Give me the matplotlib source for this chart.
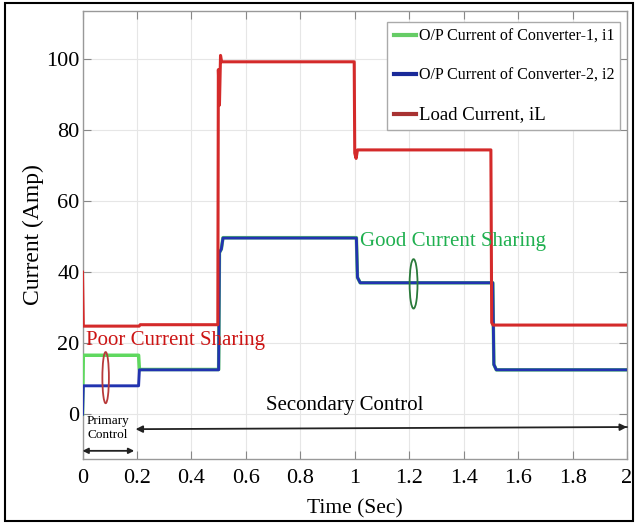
import matplotlib
matplotlib.use("Agg")
import matplotlib.pyplot as plt
from matplotlib.lines import Line2D
from matplotlib.patches import Ellipse, Rectangle

plt.rcParams['font.family'] = ['Liberation Serif', 'DejaVu Serif']

# Load current iL (A) vs time (s)
t_load = [0.0, 0.003, 0.208, 0.212, 0.497, 0.499, 0.503, 0.507, 0.511,
          0.998, 1.000, 1.005, 1.010, 1.500, 1.503, 1.508, 2.0]
i_load = [40.0, 24.8, 24.8, 25.2, 25.2, 97.0, 87.0, 101.0, 99.2,
          99.2, 73.5, 72.0, 74.4, 74.4, 25.8, 25.1, 25.1]

# Converter-1 output current i1
t_conv1 = [0.0, 0.003, 0.206, 0.209, 0.500, 0.503, 0.510, 0.516,
           1.006, 1.010, 1.020, 1.507, 1.511, 1.520, 2.0]
i_conv1 = [0.0, 16.6, 16.6, 12.6, 12.6, 45.5, 46.5, 49.7,
           49.7, 38.5, 37.0, 37.0, 14.0, 12.5, 12.5]

# Converter-2 output current i2
t_conv2 = [0.0, 0.003, 0.206, 0.209, 0.500, 0.503, 0.510, 0.516,
           1.006, 1.010, 1.020, 1.507, 1.511, 1.520, 2.0]
i_conv2 = [0.0, 8.0, 8.0, 12.5, 12.5, 45.5, 46.5, 49.6,
           49.6, 38.5, 37.0, 37.0, 14.0, 12.5, 12.5]

x_ticks = [0, 0.2, 0.4, 0.6, 0.8, 1.0, 1.2, 1.4, 1.6, 1.8, 2.0]
x_tick_labels = ['0', '0.2', '0.4', '0.6', '0.8', '1', '1.2', '1.4', '1.6', '1.8', '2']
y_ticks = [0, 20, 40, 60, 80, 100]

legend_labels = ['O/P Current of Converter-1, i1',
                 'O/P Current of Converter-2, i2',
                 'Load Current, iL']

fig = plt.figure(figsize=(6.35, 5.25), dpi=100)
ax = fig.add_axes([82.5 / 635, 66 / 525, 544.5 / 635, 448 / 525])

ax.plot(t_conv1, i_conv1, color='#5fd85f', lw=2.5, zorder=3)
ax.plot(t_conv2, i_conv2, color='#2233b0', lw=2.1, zorder=4)
ax.plot(t_load, i_load, color='#d42a2a', lw=2.2, zorder=5)

ax.set_xlim(0, 2)
ax.set_ylim(-12.6, 113.5)
ax.set_xticks(x_ticks)
ax.set_xticklabels(x_tick_labels)
ax.set_yticks(y_ticks)
ax.grid(True, color='#e6e6e6', lw=0.8, zorder=0)
ax.tick_params(direction='in', top=True, right=True, length=6, width=0.8,
               color='#888888', labelsize=16)
ax.tick_params(axis='x', pad=7)
ax.tick_params(axis='y', pad=2)
for sp in ax.spines.values():
    sp.set_color('#999999')
    sp.set_linewidth(1.0)

ax.set_xlabel('Time (Sec)', fontsize=15.5, labelpad=8)
ax.set_ylabel('Current (Amp)', fontsize=17, labelpad=2)

# Annotations
ax.text(0.013, 20.8, 'Poor Current Sharing', color='#cc1515', fontsize=15,
        ha='left', va='center', zorder=6)
ax.text(1.019, 48.5, 'Good Current Sharing', color='#20b050', fontsize=15,
        ha='left', va='center', zorder=6)
ax.text(0.962, 2.4, 'Secondary Control', color='black', fontsize=15,
        ha='center', va='center')
ax.text(0.094, -3.9, 'Primary\nControl', color='black', fontsize=9.5,
        ha='center', va='center', linespacing=1.15)

ax.add_patch(Ellipse((0.085, 10.3), 0.024, 14.4, fill=False,
                     ec='#b83a3a', lw=1.3, zorder=7))
ax.add_patch(Ellipse((1.216, 36.7), 0.029, 13.9, fill=False,
                     ec='#2a7a3a', lw=1.3, zorder=7))

ax.annotate('', xy=(0.195, -4.2), xytext=(2.0, -3.6),
            arrowprops=dict(arrowstyle='-|>', color='#222222', lw=1.3,
                            mutation_scale=10, shrinkA=0, shrinkB=0),
            annotation_clip=False)
ax.annotate('', xy=(2.0, -3.6), xytext=(1.97, -3.65),
            arrowprops=dict(arrowstyle='-|>', color='#222222', lw=1.3,
                            mutation_scale=10, shrinkA=0, shrinkB=0),
            annotation_clip=False)
ax.annotate('', xy=(0.0, -10.3), xytext=(0.19, -10.3),
            arrowprops=dict(arrowstyle='<|-|>', color='#222222', lw=1.3,
                            mutation_scale=8, shrinkA=0, shrinkB=0),
            annotation_clip=False)

handles = [Line2D([], [], color='#66cc66', lw=3),
           Line2D([], [], color='#1a2a99', lw=3),
           Line2D([], [], color='#a83232', lw=3)]
leg = ax.legend(handles, legend_labels, loc='upper right',
                bbox_to_anchor=(0.988, 0.976), fontsize=11.5,
                frameon=True, fancybox=False, framealpha=1,
                edgecolor='#aaaaaa', handlelength=1.4, handletextpad=0.15,
                borderpad=0.4, labelspacing=1.45, borderaxespad=0)
leg.get_frame().set_linewidth(1.0)
leg.get_texts()[2].set_fontsize(13.5)
leg.set_zorder(10)

fig.patches.append(Rectangle((5 / 635, 4 / 525), 628 / 635, 518 / 525,
                             transform=fig.transFigure, fill=False,
                             ec='black', lw=1.5))

fig.savefig('out.png', dpi=100)
